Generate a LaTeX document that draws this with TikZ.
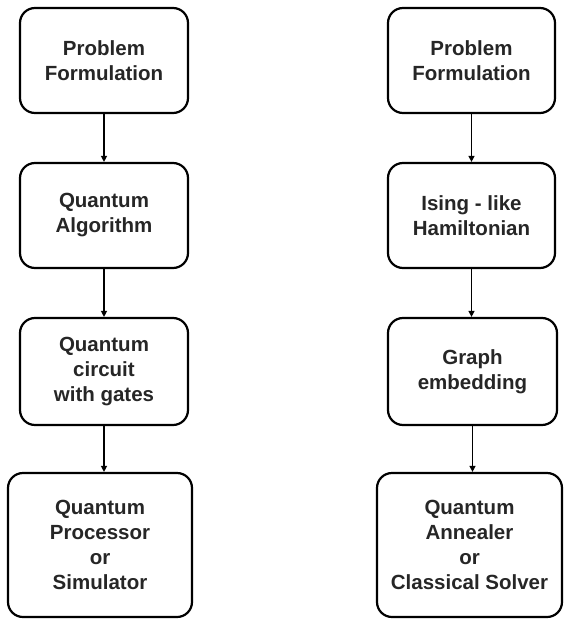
\documentclass[tikz,border=0pt]{standalone}
\usepackage{fontspec}
\setmainfont{Liberation Sans}
\usetikzlibrary{arrows.meta}
\begin{document}
\begin{tikzpicture}[x=1pt,y=-1pt,
  box/.style={draw=black, line width=2.2pt, rounded corners=15pt, align=center,
    font=\fontsize{20.5}{25}\selectfont\bfseries, inner sep=0pt, text=black!85},
  conn/.style={line width=1.3pt, -{Triangle[length=6pt,width=6pt]}}]
\useasboundingbox (0,0) rectangle (564,621);
% left column
\node[box, minimum width=168pt, minimum height=105pt] (l1) at (104,60.5) {Problem\\Formulation};
\node[box, minimum width=168pt, minimum height=105pt] (l2) at (104,215.5) {Quantum\\Algorithm};
\node[box, minimum width=168pt, minimum height=107pt] (l3) at (104,371.5) {Quantum\\circuit\\with gates};
\node[box, minimum width=184pt, minimum height=144pt] (l4) at (100,545) {Quantum\\Processor\\or\\Simulator};
% right column
\node[box, minimum width=167pt, minimum height=105pt] (r1) at (471.5,60.5) {Problem\\Formulation};
\node[box, minimum width=167pt, minimum height=105pt] (r2) at (471.5,215.5) {Ising - like\\Hamiltonian};
\node[box, minimum width=169pt, minimum height=107pt] (r3) at (472.5,371.5) {Graph\\embedding};
\node[box, minimum width=185pt, minimum height=144pt] (r4) at (469.5,545) {Quantum\\Annealer\\or\\Classical Solver};
% connectors
\draw[conn] (l1.south) -- (l2.north);
\draw[conn] (l2.south) -- (l3.north);
\draw[conn] (l3.south) -- (l3.south |- l4.north);
\draw[conn] (r1.south) -- (r2.north);
\draw[conn] (r2.south) -- (r2.south |- r3.north);
\draw[conn] (r3.south) -- (r3.south |- r4.north);
\end{tikzpicture}
\end{document}
